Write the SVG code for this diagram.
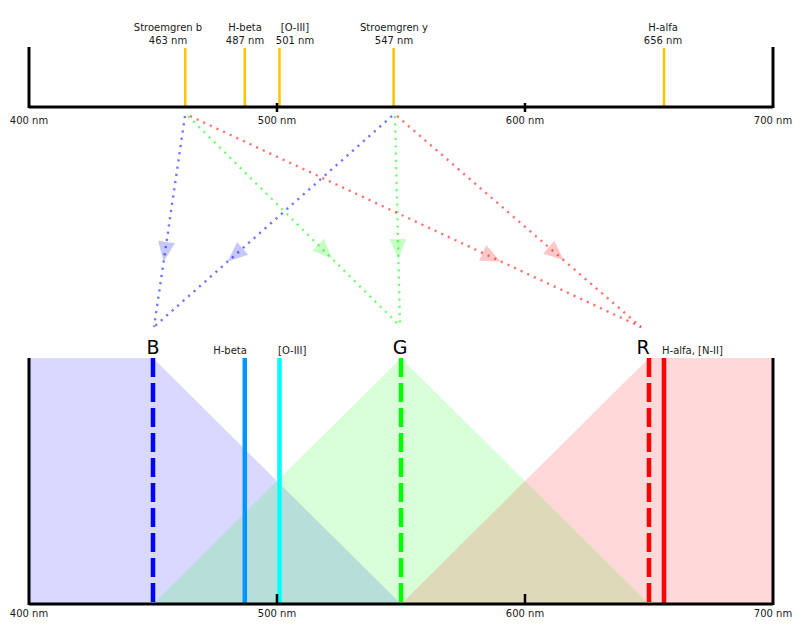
<svg xmlns="http://www.w3.org/2000/svg" width="800" height="631" viewBox="0 0 800 631">
<style>
text{font-family:"DejaVu Sans","Liberation Sans",sans-serif;font-size:10px;fill:#1a1a1a}
.big{font-size:19px;fill:#000}
.c{text-anchor:middle}
.axis{stroke:#000;stroke-width:3;fill:none}
.tick{stroke:#000;stroke-width:2.5;fill:none}
.yl{stroke:#ffc400;stroke-width:2.5}
.dot{fill:none;stroke-width:2.4;stroke-dasharray:2.2 5.1;stroke-opacity:0.55}
.dash{stroke-width:4.5;stroke-dasharray:19 6}
.solid{stroke-width:4.5}
</style>
<defs>
<marker id="ab" markerUnits="userSpaceOnUse" orient="auto" viewBox="-10 -10 25 20" markerWidth="25" markerHeight="20" refX="0" refY="0"><path d="M-7,-8.5 L13,0 L-7,8.5 Z" fill="#0000ff" fill-opacity="0.22" stroke="none"/></marker>
<marker id="ag" markerUnits="userSpaceOnUse" orient="auto" viewBox="-10 -10 25 20" markerWidth="25" markerHeight="20" refX="0" refY="0"><path d="M-7,-8.5 L13,0 L-7,8.5 Z" fill="#00ff00" fill-opacity="0.22" stroke="none"/></marker>
<marker id="ar" markerUnits="userSpaceOnUse" orient="auto" viewBox="-10 -10 25 20" markerWidth="25" markerHeight="20" refX="0" refY="0"><path d="M-7,-8.5 L13,0 L-7,8.5 Z" fill="#ff0000" fill-opacity="0.22" stroke="none"/></marker>
</defs>
<g id="top-scale">
<line class="yl" x1="185.2" y1="48" x2="185.2" y2="107"/>
<line class="yl" x1="244.8" y1="48" x2="244.8" y2="107"/>
<line class="yl" x1="279.5" y1="48" x2="279.5" y2="107"/>
<line class="yl" x1="393.6" y1="48" x2="393.6" y2="107"/>
<line class="yl" x1="664" y1="48" x2="664" y2="107"/>
<path class="axis" d="M29,47 V108 M773,47 V108 M29,107 H773"/>
<path class="tick" d="M277,103 V112 M525,103 V112"/>
<text class="c" x="168" y="31">Stroemgren b</text>
<text class="c" x="168" y="44">463 nm</text>
<text class="c" x="245" y="31">H-beta</text>
<text class="c" x="245" y="44">487 nm</text>
<text class="c" x="295" y="31">[O-III]</text>
<text class="c" x="295" y="44">501 nm</text>
<text class="c" x="394" y="31">Stroemgren y</text>
<text class="c" x="394" y="44">547 nm</text>
<text class="c" x="663" y="31">H-alfa</text>
<text class="c" x="663" y="44">656 nm</text>
<text class="c" x="29" y="124">400 nm</text>
<text class="c" x="277" y="124">500 nm</text>
<text class="c" x="525" y="124">600 nm</text>
<text class="c" x="773" y="124">700 nm</text>
</g>
<g id="connectors">
<path class="dot" stroke="#0000ff" marker-mid="url(#ab)" d="M185,116 L165.5,249 L154,327"/>
<path class="dot" stroke="#0000ff" marker-mid="url(#ab)" d="M392,116 L237.4,253 L155,326"/>
<path class="dot" stroke="#00ff00" marker-mid="url(#ag)" d="M188,116 L323,249.7 L400,326"/>
<path class="dot" stroke="#00ff00" marker-mid="url(#ag)" d="M395,116 L398.1,246 L400,326"/>
<path class="dot" stroke="#ff0000" marker-mid="url(#ar)" d="M190,116 L489,255.9 L641,327"/>
<path class="dot" stroke="#ff0000" marker-mid="url(#ar)" d="M397,116 L554,251.8 L641,327"/>
</g>
<g id="bottom-scale">
<g id="band-B"><polygon points="29,358 153,358 401,604 29,604" fill="#0000ff" fill-opacity="0.15"/></g>
<g id="band-G"><polygon points="153,604 401,358 649,604" fill="#00ff00" fill-opacity="0.15"/></g>
<g id="band-R"><polygon points="401,604 649,358 773,358 773,604" fill="#ff0000" fill-opacity="0.15"/></g>
<line class="solid" stroke="#0096ff" x1="244.8" y1="358" x2="244.8" y2="604"/>
<line class="solid" stroke="#00ffff" x1="279.5" y1="358" x2="279.5" y2="604"/>
<line class="solid" stroke="#ff0000" x1="664" y1="358" x2="664" y2="604"/>
<line class="dash" stroke="#0000ff" x1="153" y1="358" x2="153" y2="604"/>
<line class="dash" stroke="#00ff00" x1="401" y1="358" x2="401" y2="604"/>
<line class="dash" stroke="#ff0000" x1="649" y1="358" x2="649" y2="604"/>
<path class="axis" d="M29,358 V605 M773,358 V605 M29,604 H773"/>
<path class="tick" d="M277,594 V604 M525,594 V604"/>
<text class="big c" x="153" y="354">B</text>
<text class="big c" x="400" y="354">G</text>
<text class="big c" x="643" y="354">R</text>
<text class="c" x="230" y="354">H-beta</text>
<text x="278" y="354">[O-III]</text>
<text x="662" y="354">H-alfa, [N-II]</text>
<text class="c" x="29" y="617">400 nm</text>
<text class="c" x="277" y="617">500 nm</text>
<text class="c" x="525" y="617">600 nm</text>
<text class="c" x="773" y="617">700 nm</text>
</g>
</svg>
